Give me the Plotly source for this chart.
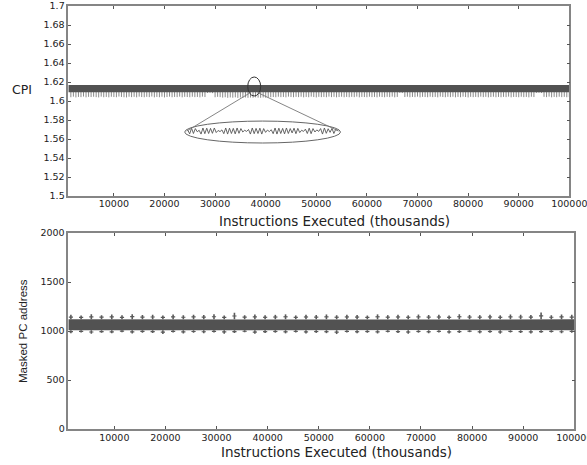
import plotly.graph_objects as go

# ---------------- data ----------------
x_tick_vals = [10000, 20000, 30000, 40000, 50000, 60000, 70000, 80000, 90000, 100000]
x_tick_text = ["10000", "20000", "30000", "40000", "50000", "60000", "70000", "80000", "90000", "100000"]
cpi_tick_vals = [1.5, 1.52, 1.54, 1.56, 1.58, 1.6, 1.62, 1.64, 1.66, 1.68, 1.7]
cpi_tick_text = ["1.5", "1.52", "1.54", "1.56", "1.58", "1.6", "1.62", "1.64", "1.66", "1.68", "1.7"]
pc_tick_vals = [0, 500, 1000, 1500, 2000]
pc_tick_text = ["0", "500", "1000", "1500", "2000"]

# CPI dense band (upper / lower envelope)
cpi_band_x = [1000, 20000, 40000, 60000, 80000, 100000]
cpi_band_hi = [1.6168, 1.6167, 1.6168, 1.6167, 1.6168, 1.6168]
cpi_band_lo = [1.6092, 1.6093, 1.6092, 1.6093, 1.6092, 1.6092]

# CPI downward excursions (one every 500k instructions, from 1500 to 100000)
cpi_spike_start = 1500
cpi_spike_step = 500
cpi_spike_low = [
    1.6040, 1.6046, 1.6038, 1.6043, 1.6041, 1.6047, 1.6039, 1.6044, 1.6042, 1.6045,
    1.6041, 1.6038, 1.6046, 1.6040, 1.6043, 1.6039, 1.6045, 1.6042, 1.6040, 1.6047,
    1.6043, 1.6040, 1.6038, 1.6045, 1.6041, 1.6044, 1.6039, 1.6046, 1.6042, 1.6040,
    1.6044, 1.6041, 1.6047, 1.6039, 1.6043, 1.6040, 1.6045, 1.6038, 1.6042, 1.6046,
    1.6040, 1.6043, 1.6041, 1.6046, 1.6039, 1.6044, 1.6042, 1.6040, 1.6045, 1.6041,
    1.6043, 1.6039, 1.6046, 1.6042, 1.6085, 1.6088, 1.6083, 1.6040, 1.6044, 1.6041,
    1.6036, 1.6040, 1.6034, 1.6038, 1.6035, 1.6039, 1.6033, 1.6037, 1.6035, 1.6038,
    1.6034, 1.6037, 1.6035, 1.6039, 1.6036, 1.6034, 1.6038, 1.6035, 1.6037, 1.6040,
    1.6042, 1.6040, 1.6045, 1.6041, 1.6043, 1.6039, 1.6046, 1.6042, 1.6040, 1.6044,
    1.6041, 1.6045, 1.6039, 1.6043, 1.6040, 1.6046, 1.6042, 1.6038, 1.6044, 1.6041,
    1.6043, 1.6040, 1.6046, 1.6041, 1.6044, 1.6039, 1.6042, 1.6045, 1.6040, 1.6043,
    1.6040, 1.6044, 1.6041, 1.6046, 1.6039, 1.6043, 1.6042, 1.6040, 1.6045, 1.6041,
    1.6043, 1.6039, 1.6045, 1.6042, 1.6040, 1.6044, 1.6041, 1.6046, 1.6039, 1.6043,
    1.6087, 1.6084, 1.6042, 1.6045, 1.6040, 1.6043, 1.6041, 1.6046, 1.6039, 1.6044,
    1.6042, 1.6040, 1.6045, 1.6041, 1.6043, 1.6039, 1.6046, 1.6042, 1.6040, 1.6044,
    1.6041, 1.6045, 1.6039, 1.6043, 1.6040, 1.6046, 1.6042, 1.6038, 1.6044, 1.6041,
    1.6043, 1.6040, 1.6046, 1.6041, 1.6044, 1.6039, 1.6042, 1.6045, 1.6040, 1.6043,
    1.6040, 1.6044, 1.6041, 1.6046, 1.6039, 1.6043, 1.6042, 1.6040, 1.6045, 1.6041,
    1.6043, 1.6039, 1.6045, 1.6042, 1.6086, 1.6088, 1.6085, 1.6044, 1.6041, 1.6046,
    1.6039, 1.6043, 1.6040, 1.6045, 1.6041, 1.6044, 1.6040, 1.6042,
]

# zoomed-in detail (inset) of the CPI signal
inset_start = 24600
inset_step = 375
inset_cpi = [
    1.5695, 1.5654, 1.5714, 1.5658, 1.5710, 1.5676, 1.5692, 1.5652, 1.5716, 1.5656,
    1.5714, 1.5658, 1.5712, 1.5660, 1.5716, 1.5668, 1.5690, 1.5678, 1.5696, 1.5656,
    1.5716, 1.5652, 1.5714, 1.5658, 1.5712, 1.5654, 1.5716, 1.5660, 1.5710, 1.5674,
    1.5692, 1.5680, 1.5700, 1.5652, 1.5716, 1.5656, 1.5712, 1.5658, 1.5714, 1.5652,
    1.5710, 1.5670, 1.5694, 1.5678, 1.5698, 1.5656, 1.5716, 1.5652, 1.5714, 1.5658,
    1.5712, 1.5654, 1.5716, 1.5658, 1.5710, 1.5664, 1.5714, 1.5656, 1.5712, 1.5668,
    1.5692, 1.5680, 1.5704, 1.5658, 1.5714, 1.5656, 1.5710, 1.5674, 1.5696, 1.5680,
    1.5710, 1.5652, 1.5716, 1.5660, 1.5708, 1.5670, 1.5712, 1.5658, 1.5704, 1.5684,
]

# Masked PC address band
pc_band_x = [1000, 25000, 50000, 75000, 100000]
pc_band_hi = [1120, 1118, 1120, 1117, 1120]
pc_band_lo = [1008, 1010, 1008, 1010, 1008]

# sparse PC outliers (every 2000k instructions from 1500)
pc_mark_start = 1500
pc_mark_step = 2000
pc_hi = [1165, 1158, 1170, 1162, 1168, 1160, 1172, 1163, 1166, 1159,
         1169, 1161, 1167, 1164, 1171, 1158, 1186, 1162, 1168, 1160,
         1165, 1170, 1159, 1166, 1163, 1169, 1161, 1167, 1164, 1158,
         1170, 1162, 1166, 1160, 1168, 1163, 1165, 1159, 1171, 1164,
         1162, 1167, 1160, 1169, 1166, 1163, 1190, 1161, 1168, 1165]
pc_lo = [978, 985, 972, 981, 976, 988, 974, 983, 979, 970,
         986, 975, 982, 977, 984, 973, 980, 987, 971, 979,
         983, 976, 985, 974, 981, 978, 969, 984, 977, 982,
         975, 986, 979, 972, 983, 977, 985, 974, 980, 988,
         976, 982, 973, 984, 979, 975, 981, 986, 977, 983]

# ---------------- figure ----------------
FONT = "DejaVu Sans"
DARK = "#525252"
W, H = 587, 465

fig = go.Figure()

# CPI spikes (drawn as vertical segments down from band)
sx, sy = [], []
for i, v in enumerate(cpi_spike_low):
    xv = cpi_spike_start + i * cpi_spike_step
    sx += [xv, xv, None]
    sy += [cpi_band_lo[0] + 0.0005, v, None]
fig.add_trace(go.Scatter(x=sx, y=sy, mode="lines", line=dict(color="#8a8a8a", width=1),
                         xaxis="x", yaxis="y", hoverinfo="skip"))

# CPI band
fig.add_trace(go.Scatter(x=cpi_band_x, y=cpi_band_lo, mode="lines", line=dict(color=DARK, width=0),
                         xaxis="x", yaxis="y", hoverinfo="skip"))
fig.add_trace(go.Scatter(x=cpi_band_x, y=cpi_band_hi, mode="lines", line=dict(color=DARK, width=0),
                         fill="tonexty", fillcolor=DARK, xaxis="x", yaxis="y"))

# inset zoomed signal
inset_x = [inset_start + i * inset_step for i in range(len(inset_cpi))]
fig.add_trace(go.Scatter(x=inset_x, y=inset_cpi, mode="lines", line=dict(color="#555555", width=0.9),
                         xaxis="x", yaxis="y", hoverinfo="skip"))

# PC band
fig.add_trace(go.Scatter(x=pc_band_x, y=pc_band_lo, mode="lines", line=dict(color=DARK, width=0),
                         xaxis="x2", yaxis="y2", hoverinfo="skip"))
fig.add_trace(go.Scatter(x=pc_band_x, y=pc_band_hi, mode="lines", line=dict(color=DARK, width=0),
                         fill="tonexty", fillcolor=DARK, xaxis="x2", yaxis="y2"))

# PC outliers
mx = [pc_mark_start + i * pc_mark_step for i in range(len(pc_hi))]
for vals, base in ((pc_hi, pc_band_hi[0]), (pc_lo, pc_band_lo[0])):
    segx, segy = [], []
    for xv, v in zip(mx, vals):
        segx += [xv, xv, None]
        segy += [base, v, None]
    fig.add_trace(go.Scatter(x=segx, y=segy, mode="lines", line=dict(color="#5a5a5a", width=1.6),
                             xaxis="x2", yaxis="y2", hoverinfo="skip"))
    fig.add_trace(go.Scatter(x=mx, y=[(base + v) / 2 for v in vals], mode="markers",
                             marker=dict(symbol="line-ew", size=3, line=dict(color="#5a5a5a", width=1.2)),
                             xaxis="x2", yaxis="y2", hoverinfo="skip"))

# inset shapes (ellipses + connectors)
shapes = [
    dict(type="circle", xref="x", yref="y", x0=36450, x1=39010, y0=1.6053, y1=1.6253,
         line=dict(color="#333333", width=1)),
    dict(type="circle", xref="x", yref="y", x0=23990, x1=54790, y0=1.5558, y1=1.5789,
         line=dict(color="#666666", width=1)),
    dict(type="line", xref="x", yref="y", x0=36840, y0=1.6084, x1=24400, y1=1.5684,
         line=dict(color="#777777", width=0.9)),
    dict(type="line", xref="x", yref="y", x0=38600, y0=1.6084, x1=54400, y1=1.5684,
         line=dict(color="#777777", width=0.9)),
]

axis_common = dict(
    showgrid=False, zeroline=False, showline=True, linecolor="#858585", linewidth=1.5,
    mirror="ticks", ticks="inside", ticklen=3, tickcolor="#555555", tickwidth=1,
    automargin=False, ticklabeloverflow="allow",
    tickfont=dict(family=FONT, size=9.5, color="#222222"),
)

fig.update_layout(
    width=W, height=H, margin=dict(l=0, r=0, t=0, b=0, autoexpand=False),
    paper_bgcolor="white", plot_bgcolor="white", showlegend=False,
    shapes=shapes,
    xaxis=dict(domain=[0.1164, 0.9699], range=[1000, 100000], anchor="y",
               tickvals=x_tick_vals, ticktext=x_tick_text, ticklabelstandoff=-2, **axis_common),
    yaxis=dict(domain=[0.5785, 0.987], range=[1.5, 1.7], anchor="x",
               tickvals=cpi_tick_vals, ticktext=cpi_tick_text, **axis_common),
    xaxis2=dict(domain=[0.1164, 0.9784], range=[1000, 100000], anchor="y2",
                tickvals=x_tick_vals, ticktext=x_tick_text, ticklabelstandoff=-1, **axis_common),
    yaxis2=dict(domain=[0.0774, 0.4989], range=[0, 2000], anchor="x2",
                tickvals=pc_tick_vals, ticktext=pc_tick_text, **axis_common),
    annotations=[
        dict(text="CPI", x=22 / W, y=1 - 89 / H, xref="paper", yref="paper",
             xanchor="center", yanchor="middle",
             showarrow=False, font=dict(family=FONT, size=12.5, color="#222222")),
        dict(text="Instructions Executed (thousands)", x=334 / W, y=1 - 221 / H,
             xref="paper", yref="paper", showarrow=False, xanchor="center", yanchor="middle",
             font=dict(family=FONT, size=13.5, color="#222222")),
        dict(text="Instructions Executed (thousands)", x=336 / W, y=1 - 451.5 / H,
             xref="paper", yref="paper", showarrow=False, xanchor="center", yanchor="middle",
             font=dict(family=FONT, size=13.5, color="#222222")),
        dict(text="Masked PC address", x=23 / W, y=1 - 331 / H, xref="paper", yref="paper",
             showarrow=False, textangle=-90, xanchor="center", yanchor="middle",
             font=dict(family="Liberation Sans Narrow, Liberation Sans, sans-serif", size=11.5,
                       color="#222222")),
    ],
)

post = (
    "document.documentElement.style.overflow='hidden';"
    "document.body.style.margin='0';document.body.style.overflow='hidden';"
)

fig.write_html("out.html", config={"displayModeBar": False}, post_script=post)
